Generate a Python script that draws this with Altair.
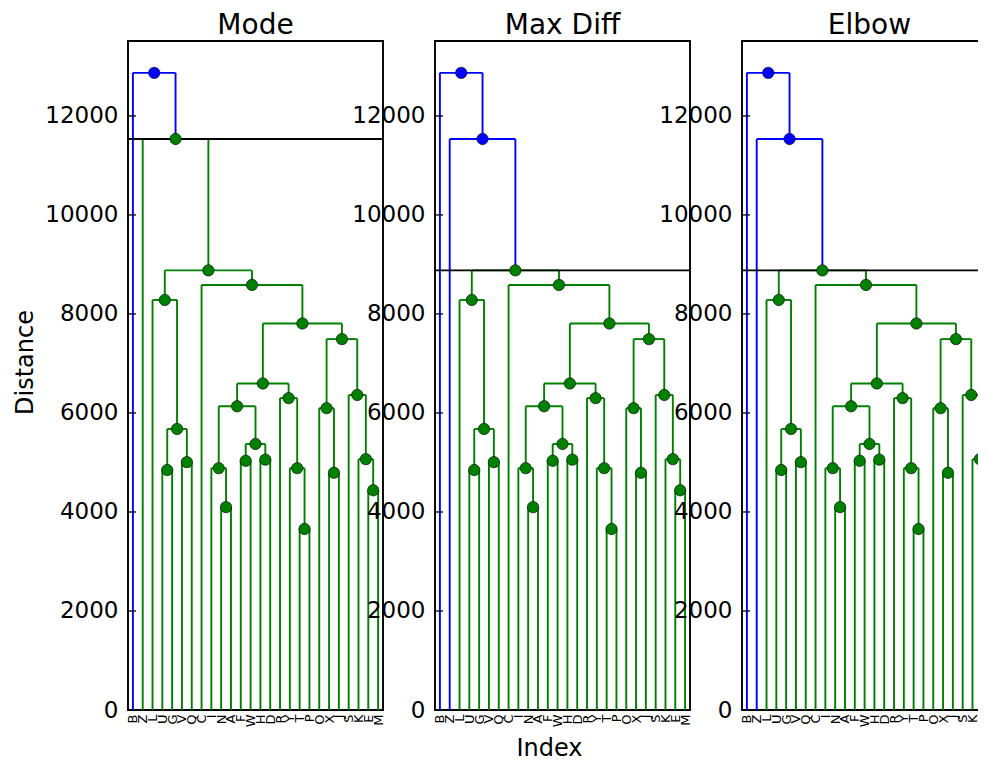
import altair as alt
import pandas as pd

# ---- data -------------------------------------------------------------
leaf_labels = ["B", "Z", "L", "U", "G", "V", "Q", "C", "I", "N", "A", "F", "W",
               "H", "D", "R", "Y", "T", "P", "O", "X", "J", "S", "K", "E", "M"]

# linkage (scipy style: ids < 26 are leaves in display order, 26+k is merge k)
merge_left = [17, 9, 24, 20, 3, 8, 16, 5, 11, 13, 23, 34, 30, 19, 31, 15, 22,
              40, 39, 43, 2, 7, 46, 1, 0]
merge_right = [18, 10, 25, 21, 4, 27, 26, 6, 12, 14, 28, 35, 33, 29, 37, 32, 36,
               41, 42, 44, 38, 45, 47, 48, 49]
merge_height = [3657, 4098, 4438, 4792, 4848, 4885, 4885, 5007, 5034, 5057, 5067,
                5374, 5677, 6097, 6135, 6300, 6364, 6596, 7492, 7808, 8283, 8586,
                8880, 11535, 12870]

panel_titles = ["Mode", "Max Diff", "Elbow"]
panel_thresholds = [11535, 8880, 8880]

y_ticks = [0, 2000, 4000, 6000, 8000, 10000, 12000]
y_top = 12870 * 1.05

# ---- dendrogram geometry from the linkage -----------------------------
n_leaves = len(leaf_labels)
leaf_pos = [5 + 10 * i for i in range(n_leaves)]
x_max = 10 * n_leaves


def build(threshold):
    pos = {i: leaf_pos[i] for i in range(n_leaves)}
    hgt = {i: 0.0 for i in range(n_leaves)}
    segs, nodes = [], []
    for k, (l, r, h) in enumerate(zip(merge_left, merge_right, merge_height)):
        nid = n_leaves + k
        xl, xr = pos[l], pos[r]
        pos[nid] = (xl + xr) / 2.0
        hgt[nid] = h
        c = "above" if h > threshold else "below"
        segs.append(dict(x=xl, y=hgt[l], x2=xl, y2=h, c=c))
        segs.append(dict(x=xl, y=h, x2=xr, y2=h, c=c))
        segs.append(dict(x=xr, y=hgt[r], x2=xr, y2=h, c=c))
        nodes.append(dict(x=pos[nid], y=h, c=c))
    return pd.DataFrame(segs), pd.DataFrame(nodes)


label_expr = "[" + ",".join("'%s'" % s for s in leaf_labels) + "][round((datum.value - 5) / 10)]"

color_scale = alt.Scale(domain=["above", "below"], range=["#0000ff", "#008000"])
x_scale = alt.Scale(domain=[0, x_max], nice=False, zero=False)
y_scale = alt.Scale(domain=[0, y_top], nice=False, zero=True)


def panel(idx):
    thr = panel_thresholds[idx]
    segs, nodes = build(thr)

    x_axis_kw = dict(values=leaf_pos, labelExpr=label_expr, labelAngle=270,
                     labelAlign="right", labelBaseline="middle", labelFontSize=13,
                     labelPadding=4, ticks=False, domain=False, grid=False,
                     labelOverlap=False, labelFlush=False)
    if idx == 1:
        x_axis_kw.update(title="Index", titleFontSize=24, titleX=114, titleY=26,
                         titleAlign="center", titleBaseline="top")
    else:
        x_axis_kw.update(title=None)

    y_axis_kw = dict(values=y_ticks, labelFontSize=23, labelPadding=10, ticks=False,
                     domain=False, grid=False, labelFlush=False, format="d")
    if idx == 0:
        y_axis_kw.update(title="Distance", titleFontSize=24, titleX=-103, titleY=321,
                         titleAngle=270, titleAlign="center", titleBaseline="middle")
    else:
        y_axis_kw.update(title=None)

    x_enc = alt.X("x:Q", scale=x_scale, axis=alt.Axis(**x_axis_kw))
    y_enc = alt.Y("y:Q", scale=y_scale, axis=alt.Axis(**y_axis_kw))

    links = alt.Chart(segs).mark_rule(strokeWidth=1.9).encode(
        x=x_enc, x2="x2:Q", y=y_enc, y2="y2:Q",
        color=alt.Color("c:N", scale=color_scale, legend=None),
    )

    cut = alt.Chart(pd.DataFrame({"y": [thr]})).mark_rule(
        color="black", strokeWidth=1.9
    ).encode(y=y_enc)

    ticks = alt.Chart(pd.DataFrame({"y": y_ticks[1:]})).mark_rule(
        color="black", strokeWidth=1.3
    ).encode(y=y_enc, x=alt.value(0), x2=alt.value(8))

    dots = alt.Chart(nodes).mark_point(
        filled=True, size=130, stroke="black", strokeWidth=0.6, opacity=1, fillOpacity=1
    ).encode(
        x=x_enc, y=y_enc,
        fill=alt.Color("c:N", scale=color_scale, legend=None),
    )

    return alt.layer(links, ticks, cut, dots).properties(
        width=255, height=669,
        title=alt.TitleParams(panel_titles[idx], fontSize=28, font="DejaVu Sans",
                              fontWeight="normal", color="black", offset=1),
    )


chart = alt.hconcat(panel(0), panel(1), panel(2), spacing=52, bounds="flush").properties(
    padding={"left": 4, "top": 3, "right": -23, "bottom": 1}
).configure_view(
    stroke="black", strokeWidth=1.9
).configure_axis(
    labelFont="DejaVu Sans", titleFont="DejaVu Sans", labelColor="black",
    titleColor="black", titleFontWeight="normal"
)

chart.save("out.html", embed_options={"renderer": "svg", "actions": False})
